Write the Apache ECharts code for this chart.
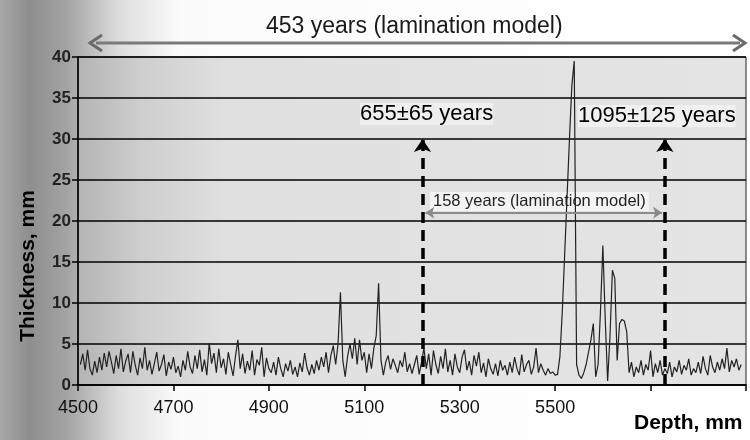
<!DOCTYPE html>
<html>
<head>
<meta charset="utf-8">
<script src="https://cdn.jsdelivr.net/npm/echarts@6/dist/echarts.min.js"></script>
<style>
  html, body { margin: 0; padding: 0; background: #fff; }
  #chart { width: 750px; height: 440px; }
</style>
</head>
<body>
<div id="chart"></div>
<script>
// depth along the core, mm (5 mm steps)
const depths = [
  4505, 4510, 4515, 4520, 4525, 4530, 4535, 4540, 4545, 4550, 4555, 4560, 4565, 4570, 4575, 4580, 4585, 4590, 4595, 4600,
  4605, 4610, 4615, 4620, 4625, 4630, 4635, 4640, 4645, 4650, 4655, 4660, 4665, 4670, 4675, 4680, 4685, 4690, 4695, 4700,
  4705, 4710, 4715, 4720, 4725, 4730, 4735, 4740, 4745, 4750, 4755, 4760, 4765, 4770, 4775, 4780, 4785, 4790, 4795, 4800,
  4805, 4810, 4815, 4820, 4825, 4830, 4835, 4840, 4845, 4850, 4855, 4860, 4865, 4870, 4875, 4880, 4885, 4890, 4895, 4900,
  4905, 4910, 4915, 4920, 4925, 4930, 4935, 4940, 4945, 4950, 4955, 4960, 4965, 4970, 4975, 4980, 4985, 4990, 4995, 5000,
  5005, 5010, 5015, 5020, 5025, 5030, 5035, 5040, 5045, 5050, 5055, 5060, 5065, 5070, 5075, 5080, 5085, 5090, 5095, 5100,
  5105, 5110, 5115, 5120, 5125, 5130, 5135, 5140, 5145, 5150, 5155, 5160, 5165, 5170, 5175, 5180, 5185, 5190, 5195, 5200,
  5205, 5210, 5215, 5220, 5225, 5230, 5235, 5240, 5245, 5250, 5255, 5260, 5265, 5270, 5275, 5280, 5285, 5290, 5295, 5300,
  5305, 5310, 5315, 5320, 5325, 5330, 5335, 5340, 5345, 5350, 5355, 5360, 5365, 5370, 5375, 5380, 5385, 5390, 5395, 5400,
  5405, 5410, 5415, 5420, 5425, 5430, 5435, 5440, 5445, 5450, 5455, 5460, 5465, 5470, 5475, 5480, 5485, 5490, 5495, 5500,
  5505, 5510, 5515, 5520, 5525, 5530, 5535, 5540, 5545, 5550, 5555, 5560, 5565, 5570, 5575, 5580, 5585, 5590, 5595, 5600,
  5605, 5610, 5615, 5620, 5625, 5630, 5635, 5640, 5645, 5650, 5655, 5660, 5665, 5670, 5675, 5680, 5685, 5690, 5695, 5700,
  5705, 5710, 5715, 5720, 5725, 5730, 5735, 5740, 5745, 5750, 5755, 5760, 5765, 5770, 5775, 5780, 5785, 5790, 5795, 5800,
  5805, 5810, 5815, 5820, 5825, 5830, 5835, 5840, 5845, 5850, 5855, 5860, 5865, 5870, 5875, 5880, 5885, 5890
]

// lamina thickness, mm
const thickness = [
  2.5, 3.8, 1.8, 4.3, 2.0, 1.2, 2.9, 1.5, 3.4, 1.8, 3.9, 2.2, 4.1, 2.8, 1.4, 3.6, 2.0, 4.4, 1.6, 2.9,
  3.8, 1.5, 4.1, 2.4, 1.2, 3.3, 2.0, 4.6, 1.8, 3.0, 1.3, 2.6, 4.0, 1.7, 2.5, 3.7, 1.1, 2.8, 1.9, 3.4,
  1.5, 2.3, 1.0, 3.0, 1.8, 4.1, 2.2, 1.4, 3.6, 2.0, 4.3, 1.6, 3.1, 1.2, 5.1, 2.6, 3.9, 1.5, 4.4, 2.1,
  3.2, 1.3, 4.0, 2.5, 1.1, 3.5, 5.5, 2.0, 3.8, 1.4, 2.9, 1.8, 4.2, 1.2, 3.1, 2.4, 4.6, 1.0, 3.3, 2.0,
  1.5, 2.8, 1.2, 3.4, 2.0, 1.0, 2.6, 1.7, 3.0, 1.3, 2.2, 1.0, 2.7, 1.6, 3.9, 2.1, 1.2, 2.5, 1.4, 3.0,
  1.8, 3.4, 2.2, 4.0, 1.5, 3.6, 4.8, 2.5, 5.0, 11.3, 3.0, 1.0, 3.5, 5.0, 3.2, 5.7, 2.5, 5.5, 3.0, 4.0,
  1.5, 3.8, 2.0, 4.5, 6.0, 12.4, 3.0, 1.2, 2.8, 3.6, 1.9, 3.2, 2.4, 1.5, 3.0, 2.2, 4.0, 1.6, 2.6, 1.4,
  2.5, 3.6, 1.3, 2.8, 4.5, 2.0, 3.8, 1.2, 4.2, 2.5, 1.4, 3.5, 2.0, 4.4, 1.6, 3.0, 1.2, 3.8, 2.2, 1.5,
  3.4, 4.3, 1.8, 2.9, 1.2, 3.6, 2.3, 4.0, 1.5, 2.7, 1.0, 3.2, 2.0, 1.3, 2.6, 1.1, 3.0, 1.8, 2.4, 1.2,
  2.8, 1.5, 3.4, 2.0, 1.2, 3.7, 1.6, 2.5, 3.0, 1.3, 2.2, 4.5, 1.5, 2.6, 1.8, 1.2, 2.0, 1.4, 1.6, 1.2,
  1.3, 3.5, 9.0, 16.0, 23.0, 30.0, 36.5, 39.5, 2.5, 1.2, 0.8, 1.5, 2.5, 4.0, 5.5, 7.5, 1.0, 2.5, 9.0, 17.0,
  8.0, 0.5, 6.0, 14.0, 13.0, 3.0, 7.5, 8.0, 7.8, 6.5, 1.5, 2.8, 1.0, 2.2, 1.5, 3.0, 1.2, 2.5, 1.8, 4.2,
  1.0, 2.6, 1.5, 3.0, 1.2, 2.0, 1.4, 2.8, 1.0, 2.2, 1.6, 3.0, 1.3, 2.4, 1.8, 3.2, 1.2, 2.0, 1.5, 2.8,
  1.4, 3.5, 2.0, 1.2, 3.6, 2.2, 1.5, 2.8, 1.8, 3.2, 2.0, 4.5, 1.6, 3.0, 2.2, 3.2, 1.8, 2.5
]

// dated horizons (depth, mm) and the arrow tops
const datedDepths = [5222, 5730]
const arrowTop = 30
const spanLevel = 21

const FONT = 'Liberation Sans, Arial, sans-serif'

const chart = echarts.init(document.getElementById('chart'))

const points = depths.map((d, i) => [d, thickness[i]])

const dashedArrow = {
  type: [11, 7],
  width: 3.5,
  color: '#000'
}

chart.setOption({
  animation: false,
  graphic: [
    // scanned page shading on the left
    {
      type: 'rect',
      z: -10,
      silent: true,
      shape: { x: 0, y: 0, width: 750, height: 440 },
      style: {
        fill: new echarts.graphic.LinearGradient(0, 0, 1, 0, [
          { offset: 0, color: '#a8a8a8' },
          { offset: 0.04, color: '#8e8e8e' },
          { offset: 0.09, color: '#a4a4a4' },
          { offset: 0.16, color: '#dedede' },
          { offset: 0.24, color: '#fbfbfb' },
          { offset: 1, color: '#ffffff' }
        ])
      }
    },
    // 453-year span above the plot
    {
      type: 'line',
      silent: true,
      shape: { x1: 96, y1: 43, x2: 740, y2: 43 },
      style: { stroke: '#7a7a7a', lineWidth: 3 }
    },
    {
      type: 'polyline',
      silent: true,
      shape: { points: [[102, 35], [90, 43], [102, 51]] },
      style: { stroke: '#6a6a6a', lineWidth: 3, fill: null }
    },
    {
      type: 'polyline',
      silent: true,
      shape: { points: [[733, 35], [745, 43], [733, 51]] },
      style: { stroke: '#6a6a6a', lineWidth: 3, fill: null }
    },
    {
      type: 'text',
      silent: true,
      left: 266,
      top: 15,
      style: { text: '453 years (lamination model)', font: '23px ' + FONT, fill: '#1a1a1a' }
    },
    {
      type: 'text',
      silent: true,
      left: 360,
      top: 103,
      style: {
        text: '655±65 years', font: '22px ' + FONT, fill: '#000',
        backgroundColor: 'rgba(255,255,255,0.45)'
      }
    },
    {
      type: 'text',
      silent: true,
      left: 578,
      top: 105,
      style: {
        text: '1095±125 years', font: '22px ' + FONT, fill: '#000',
        backgroundColor: 'rgba(255,255,255,0.45)'
      }
    },
    {
      type: 'text',
      silent: true,
      left: 430,
      top: 192,
      style: {
        text: '158 years (lamination model)', font: '16.5px ' + FONT, fill: '#222',
        backgroundColor: 'rgba(255,255,255,0.6)', padding: [1, 3]
      }
    },
    {
      type: 'text',
      silent: true,
      x: 28,
      y: 266,
      rotation: Math.PI / 2,
      style: {
        text: 'Thickness, mm', font: 'bold 21px ' + FONT, fill: '#000',
        align: 'center', verticalAlign: 'middle'
      }
    },
    {
      type: 'text',
      silent: true,
      left: 634,
      top: 413,
      style: { text: 'Depth, mm', font: 'bold 21px ' + FONT, fill: '#000' }
    }
  ],
  grid: {
    left: 78,
    right: 4,
    top: 57,
    bottom: 55,
    show: true,
    borderColor: '#222',
    borderWidth: 1,
    backgroundColor: new echarts.graphic.LinearGradient(0, 0, 1, 0, [
      { offset: 0, color: '#b4b4b4' },
      { offset: 0.1, color: '#cfcfcf' },
      { offset: 0.22, color: '#e0e0e0' },
      { offset: 1, color: '#e4e4e4' }
    ])
  },
  xAxis: {
    type: 'value',
    min: 4500,
    max: 5900,
    interval: 200,
    axisLine: { lineStyle: { color: '#000', width: 1.5 } },
    axisTick: { show: true, length: 6, lineStyle: { color: '#000', width: 1.5 } },
    splitLine: { show: false },
    axisLabel: {
      margin: 14,
      fontFamily: FONT,
      fontSize: 18,
      color: '#111',
      formatter: v => (v > 5500 ? '' : String(v))
    }
  },
  yAxis: {
    type: 'value',
    min: 0,
    max: 40,
    interval: 5,
    axisLine: { show: true, lineStyle: { color: '#000', width: 1.5 } },
    axisTick: { show: true, length: 6, lineStyle: { color: '#000', width: 1.5 } },
    splitLine: { show: true, lineStyle: { color: '#000', width: 1.6 } },
    axisLabel: {
      margin: 7,
      fontFamily: FONT,
      fontSize: 17,
      fontWeight: 'bold',
      color: '#222'
    }
  },
  series: [
    {
      type: 'line',
      data: points,
      showSymbol: false,
      clip: true,
      lineStyle: { color: '#222', width: 1.2 },
      z: 3,
      markLine: {
        silent: true,
        animation: false,
        label: { show: false },
        symbol: ['none', 'arrow'],
        symbolSize: 13,
        data: [
          [
            { coord: [datedDepths[0], 0], lineStyle: dashedArrow },
            { coord: [datedDepths[0], arrowTop] }
          ],
          [
            { coord: [datedDepths[1], 0], lineStyle: dashedArrow },
            { coord: [datedDepths[1], arrowTop] }
          ],
          [
            {
              coord: [datedDepths[0] + 6, spanLevel],
              symbol: 'arrow',
              symbolSize: 9,
              lineStyle: { type: 'solid', width: 2, color: '#8a8a8a' },
              itemStyle: { color: '#8a8a8a' }
            },
            { coord: [datedDepths[1] - 6, spanLevel], symbol: 'arrow', symbolSize: 9 }
          ]
        ]
      }
    }
  ]
})
</script>
</body>
</html>
